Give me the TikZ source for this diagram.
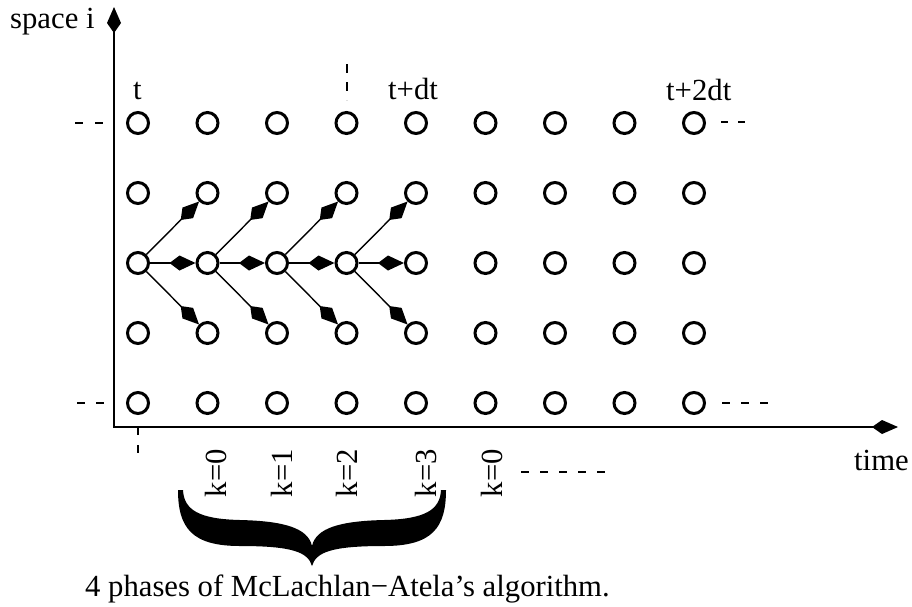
\documentclass[tikz,border=0pt]{standalone}
\usepackage{fontspec}
\setmainfont{Liberation Serif}
\usetikzlibrary{arrows.meta}
\begin{document}
\begin{tikzpicture}[x=1pt,y=-1pt,
  every node/.style={font=\fontsize{30.7}{36}\selectfont, inner sep=0pt},
  pt/.style={circle, draw, line width=3pt, minimum size=21pt, inner sep=0pt},
  conn/.style={line width=1.4pt, -{Kite[length=26pt,width=15pt,inset=10pt]}},
  axis/.style={line width=1.8pt, {Kite[length=26pt,width=14pt,inset=10pt]}-{Kite[length=26pt,width=14pt,inset=10pt]}, line join=miter},
  dsh/.style={line width=1.8pt, dash pattern=on 8pt off 11pt}
]
\useasboundingbox (0,0) rectangle (912,606);
% grid of points
\foreach \c in {0,...,8}{
  \foreach \r in {0,...,4}{
    \node[pt] (n\c\r) at ({138+69.5*\c},{123+70*\r}) {};
  }
}
% connectors
\foreach \c/\d in {0/1,1/2,2/3,3/4}{
  \draw[conn] (n\c2) -- (n\d1);
  \draw[conn] (n\c2) -- (n\d2);
  \draw[conn] (n\c2) -- (n\d3);
}
% axes
\coordinate (ytip) at (114,7);
\coordinate (org) at (114,427);
\coordinate (xtip) at (898,427);
\draw[axis] (ytip) -- (org) -- (xtip);
% dashes
\coordinate (dl1a) at (75,123); \coordinate (dl1b) at (103,123);
\draw[dsh, dash pattern=on 8pt off 12pt] (dl1a) -- (dl1b);
\coordinate (dl2a) at (77,403); \coordinate (dl2b) at (104,403);
\draw[dsh] (dl2a) -- (dl2b);
\coordinate (dr1a) at (721,122); \coordinate (dr1b) at (745,122);
\draw[dsh, dash pattern=on 7pt off 10pt] (dr1a) -- (dr1b);
\coordinate (dr2a) at (722,403); \coordinate (dr2b) at (768,403);
\draw[dsh] (dr2a) -- (dr2b);
\coordinate (dva) at (138,427); \coordinate (dvb) at (138,454);
\draw[dsh, dash pattern=on 8pt off 10pt] (dva) -- (dvb);
\coordinate (dta) at (347,64); \coordinate (dtb) at (347,100);
\draw[dsh, dash pattern=on 9pt off 9pt] (dta) -- (dtb);
\coordinate (dka) at (521,472); \coordinate (dkb) at (605,472);
\draw[dsh] (dka) -- (dkb);
% labels
\node[anchor=base west] (lspace) at (10,28) {space i};
\node[anchor=base west] (lt) at (133,99) {t};
\node[anchor=base west] (ltdt) at (388,99) {t+dt};
\node[anchor=base west] (lt2dt) at (666,100) {t+2dt};
\node[anchor=base west] (ltime) at (854,470) {time};
\node[rotate=90] (k0) at (216,473) {k=0};
\node[rotate=90] (k1) at (282,473) {k=1};
\node[rotate=90] (k2) at (347,473) {k=2};
\node[rotate=90] (k3) at (426,473) {k=3};
\node[rotate=90] (k4) at (492,473) {k=0};
% brace
\fill (178,490) .. controls (178,528) and (192,546) .. (240,546)
  .. controls (292,546) and (308,552) .. (312,566)
  .. controls (316,552) and (332,546) .. (384,546)
  .. controls (432,546) and (446,528) .. (446,490)
  -- (441,490)
  .. controls (440,510) and (425,519) .. (384,520)
  .. controls (340,521) and (316,528) .. (312,546)
  .. controls (308,528) and (284,521) .. (240,520)
  .. controls (199,519) and (184,510) .. (183,490) -- cycle;
\node[anchor=base west] (cap) at (85,596) {4 phases of McLachlan−Atela’s algorithm.};
\end{tikzpicture}
\end{document}
